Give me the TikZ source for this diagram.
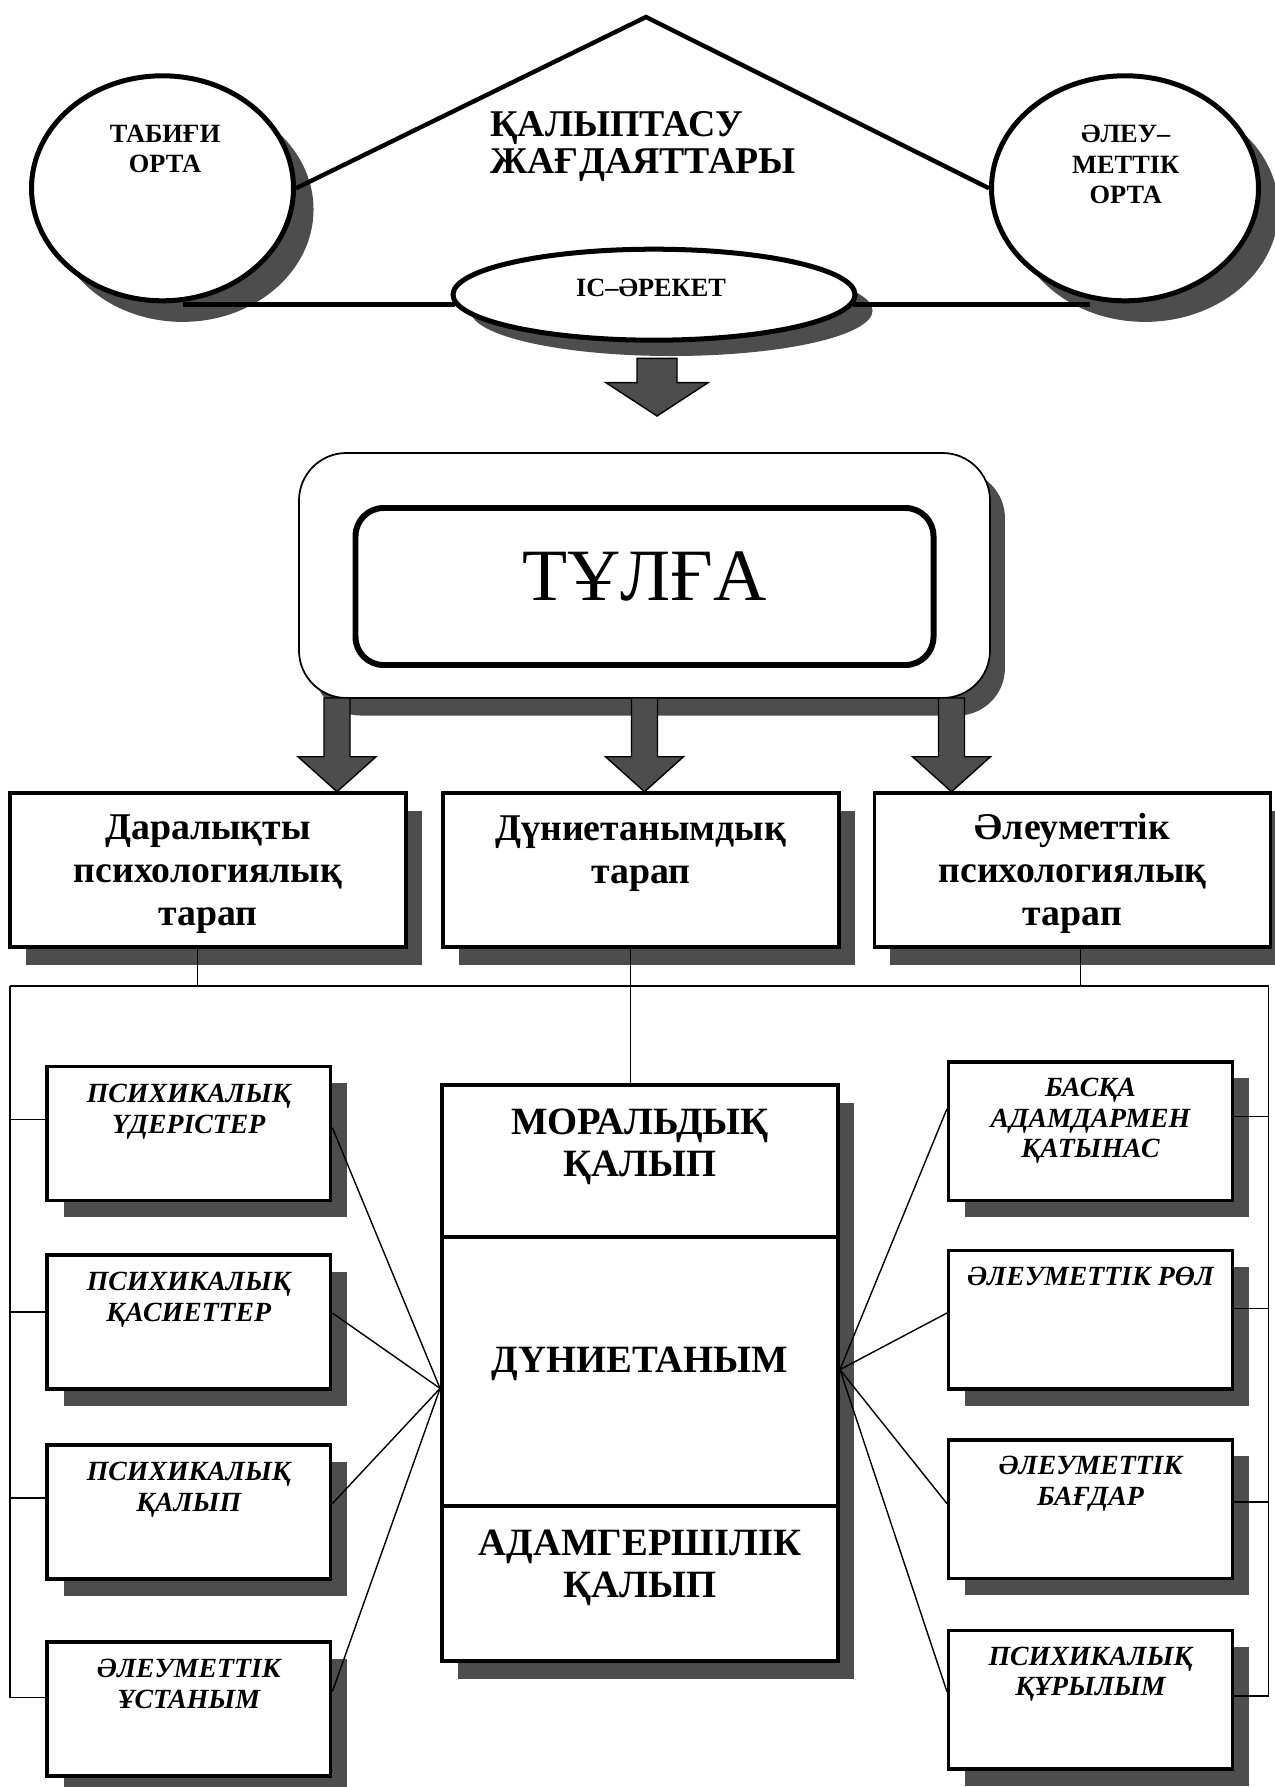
\documentclass[tikz,border=0pt]{standalone}
\usepackage{fontspec}
\setmainfont{Liberation Serif}
\usetikzlibrary{shapes.geometric,shadows,calc}
\definecolor{shgray}{RGB}{77,77,77}
\def\PX{0.02cm}
\tikzset{
  shd/.style 2 args={drop shadow={shadow xshift=#1,shadow yshift=#2,fill=shgray,opacity=1}},
  oval/.style={ellipse,draw,line width=2.85pt,fill=white,inner sep=0pt},
  bigbox/.style={rectangle,draw,line width=2.2pt,fill=white,inner sep=0pt,
    minimum width={396*\PX},minimum height={154*\PX},shd={9pt}{-10pt}},
  smallbox/.style={rectangle,draw,line width=2pt,fill=white,inner sep=0pt,
    minimum width={283.6*\PX},shd={9.5pt}{-9.5pt}},
  conn/.style={line width=0.8pt},
  tri/.style={line width=2.5pt},
  blockarrow/.style={fill=shgray,draw=black,line width=0.8pt,line join=miter},
  lbl/.style={anchor=base,align=center,inner sep=0pt},
  ovaltxt/.style={lbl,font=\fontsize{15}{17.2}\selectfont\bfseries},
  titletxt/.style={lbl,anchor=base west,align=left,font=\fontsize{21.5}{21.6}\selectfont\bfseries},
  bigtxt/.style={lbl,font=\fontsize{21.5}{24.2}\selectfont\bfseries},
  midtxt/.style={lbl,font=\fontsize{22}{23.6}\selectfont\bfseries},
  smalltxt/.style={lbl,font=\fontsize{15.8}{17.4}\selectfont\bfseries\itshape},
  pics/downarr/.style n args={4}{code={
    \draw[blockarrow] (-#1,0) -- (#1,0) -- (#1,#2) -- (#3,#2) -- (0,{#2+#4})
      -- (-#3,#2) -- (-#1,#2) -- cycle;}}
}
\begin{document}
\begin{tikzpicture}[x=0.02cm,y=-0.02cm]
\useasboundingbox (0,0) rectangle (1274,1787);
\fill[white] (0,0) rectangle (1274,1787);
% ---------- top part ----------
\node[oval,minimum width={262*\PX},minimum height={225*\PX},shd={11.4pt}{-12pt}] (eL) at (162.5,188.3) {};
\node[oval,minimum width={267*\PX},minimum height={225*\PX},shd={11.4pt}{-12pt}] (eR) at (1125,188.3) {};
\node[oval,minimum width={402*\PX},minimum height={91*\PX},shd={10pt}{-9pt}] (eM) at (654,294.7) {};
\coordinate (apex) at (646,17);
\draw[tri,line join=miter] (eL.east) -- (apex) -- (eR.west);
\coordinate (s1) at ($(eL.south)+(20,1.2)$);
\coordinate (s2) at ($(eR.south)+(-35,1.2)$);
\draw[tri] (s1) -- (s1 -| eM.183);
\draw[tri] (eM.-3 |- s2) -- (s2);
% multi-line nodes: anchor=base sits on the LAST line's baseline
\node[titletxt] (title) at (490,174) {ҚАЛЫПТАСУ\\ЖАҒДАЯТТАРЫ};
\node[ovaltxt] (tL) at (165,172.7) {ТАБИҒИ\\ОРТА};
\node[ovaltxt] (tR) at (1125.7,203.3) {ӘЛЕУ–\\МЕТТІК\\ОРТА};
\node[ovaltxt] (tM) at (651,296.7) {ІС–ӘРЕКЕТ};
\pic at (657,358.3) {downarr={20}{24.4}{51}{33.3}};
% ---------- personality box ----------
\node[rectangle,draw,line width=1pt,fill=white,rounded corners=27pt,inner sep=0pt,
  minimum width={691*\PX},minimum height={245*\PX},shd={8.5pt}{-10pt}] (ob) at (644.5,575.5) {};
\node[rectangle,draw,line width=3.4pt,fill=white,rounded corners=16pt,inner sep=0pt,
  minimum width={578*\PX},minimum height={157*\PX}] (ib) at (644.5,586.5) {};
\node[lbl,font=\fontsize{42}{44}\selectfont] (tT) at (644.5,600) {ТҰЛҒА};
% ---------- three aspects ----------
\node[bigbox] (b1) at (208,870) {};
\node[bigbox] (b2) at (640.7,870) {};
\node[bigbox] (b3) at (1072.5,870) {};
\pic at (337,698) {downarr={13}{58.7}{39}{35}};
\pic at (644.5,698) {downarr={13}{58.7}{39}{35}};
\pic at (951.5,698) {downarr={13}{58.7}{39}{35}};
\node[bigtxt] (tb1) at (208,925) {Даралықты\\психологиялық\\тарап};
\node[bigtxt] (tb2) at (640.7,883) {Дүниетанымдық\\тарап};
\node[bigtxt] (tb3) at (1072.5,925) {Әлеуметтік\\психологиялық\\тарап};
% ---------- centre column ----------
\node[rectangle,draw,line width=2.2pt,fill=white,inner sep=0pt,
  minimum width={396*\PX},minimum height={576*\PX},shd={9pt}{-10pt}] (c) at (640,1373) {};
\coordinate (d1) at (640,1237);
\coordinate (d2) at (640,1506);
\draw[line width=2.4pt] (c.west |- d1) -- (c.east |- d1);
\draw[line width=2.8pt] (c.west |- d2) -- (c.east |- d2);
\node[midtxt] (tc1) at (640,1176) {МОРАЛЬДЫҚ\\ҚАЛЫП};
\node[midtxt] (tc2) at (640,1372) {ДҮНИЕТАНЫМ};
\node[midtxt] (tc3) at (640,1597) {АДАМГЕРШІЛІК\\ҚАЛЫП};
% ---------- left boxes ----------
\node[smallbox,minimum height={134*\PX}] (l1) at (188.8,1133.5) {};
\node[smallbox,minimum height={134*\PX}] (l2) at (188.8,1322) {};
\node[smallbox,minimum height={134*\PX}] (l3) at (188.8,1511.8) {};
\node[smallbox,minimum height={134*\PX}] (l4) at (188.8,1709) {};
\node[smalltxt] (tl1) at ($(l1.north)+(0,68.3)$) {ПСИХИКАЛЫҚ\\ҮДЕРІСТЕР};
\node[smalltxt] (tl2) at ($(l2.north)+(0,68.3)$) {ПСИХИКАЛЫҚ\\ҚАСИЕТТЕР};
\node[smalltxt] (tl3) at ($(l3.north)+(0,68.3)$) {ПСИХИКАЛЫҚ\\ҚАЛЫП};
\node[smalltxt] (tl4) at ($(l4.north)+(0,68.3)$) {ӘЛЕУМЕТТІК\\ҰСТАНЫМ};
% ---------- right boxes ----------
\node[smallbox,minimum height={138.5*\PX}] (r1) at (1090.5,1131) {};
\node[smallbox,minimum height={138.5*\PX}] (r2) at (1090.5,1319.7) {};
\node[smallbox,minimum height={138.5*\PX}] (r3) at (1090.5,1509) {};
\node[smallbox,minimum height={138.5*\PX}] (r4) at (1090.5,1699.8) {};
\node[smalltxt] (tr1) at ($(r1.north)+(0,97.7)$) {БАСҚА\\АДАМДАРМЕН\\ҚАТЫНАС};
\node[smalltxt] (tr2) at ($(r2.north)+(0,36.5)$) {ӘЛЕУМЕТТІК РӨЛ};
\node[smalltxt] (tr3) at ($(r3.north)+(0,67.1)$) {ӘЛЕУМЕТТІК\\БАҒДАР};
\node[smalltxt] (tr4) at ($(r4.north)+(0,67.1)$) {ПСИХИКАЛЫҚ\\ҚҰРЫЛЫМ};
% ---------- connectors ----------
\coordinate (busL) at (10,986);
\coordinate (busR) at (1268.7,986);
\coordinate (k1) at ($(b1.south)+(-10.6,0)$);
\coordinate (k2) at ($(b2.south)+(-10.2,0)$);
\coordinate (k3) at ($(b3.south)+(8.1,0)$);
\draw[conn] (k1) -- (k1 |- busL);
\draw[conn] (k2) -- (k2 |- c.north);
\draw[conn] (k3) -- (k3 |- busR);
\draw[conn] (busL) -- (busR);
\coordinate (a1) at ($(l1.west)+(0,-13.9)$);
\coordinate (a2) at ($(l2.west)+(0,-10.2)$);
\coordinate (a3) at ($(l3.west)+(0,-13.8)$);
\coordinate (a4) at ($(l4.west)+(0,-11.3)$);
\draw[conn] (busL) |- (a4);
\draw[conn] (a1) -- (a1 -| busL);
\draw[conn] (a2) -- (a2 -| busL);
\draw[conn] (a3) -- (a3 -| busL);
\coordinate (e1) at ($(r1.east)+(0,-14.3)$);
\coordinate (e2) at ($(r2.east)+(0,-11.2)$);
\coordinate (e3) at ($(r3.east)+(0,-7)$);
\coordinate (e4) at ($(r4.east)+(0,-3.8)$);
\draw[conn] (busR) |- (e4);
\draw[conn] (e1) -- (e1 -| busR);
\draw[conn] (e2) -- (e2 -| busR);
\draw[conn] (e3) -- (e3 -| busR);
\coordinate (fl) at ($(c.west)+(0,15.4)$);
\coordinate (fr) at ($(c.east)+(0,-3.4)$);
\draw[conn] ($(l1.east)+(0,-5.9)$) -- (fl);
\draw[conn] ($(l2.east)+(0,-9)$) -- (fl);
\draw[conn] ($(l3.east)+(0,-8.2)$) -- (fl);
\draw[conn] ($(l4.east)+(0,-17.4)$) -- (fl);
\draw[conn] ($(r1.west)+(0,-22.2)$) -- (fr);
\draw[conn] ($(r2.west)+(0,-6.7)$) -- (fr);
\draw[conn] ($(r3.west)+(0,-5.4)$) -- (fr);
\draw[conn] ($(r4.west)+(0,-8.2)$) -- (fr);
\end{tikzpicture}
\end{document}
